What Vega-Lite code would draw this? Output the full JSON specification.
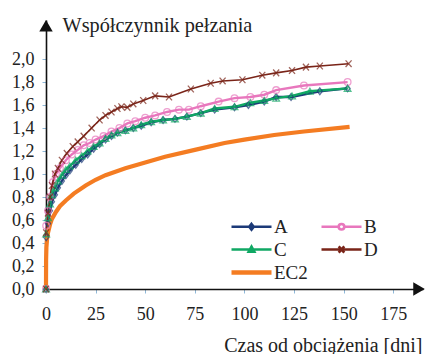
{
  "$schema": "https://vega.github.io/schema/vega-lite/v6.json",
  "width": 377,
  "height": 269,
  "autosize": {"type": "none"},
  "padding": {"left": 46, "top": 20, "right": 3, "bottom": 65},
  "background": "white",
  "config": {
    "view": {"stroke": null},
    "font": "Liberation Serif, Times New Roman, Times, serif",
    "axis": {"labelFont": "Liberation Serif, Times New Roman, Times, serif", "titleFont": "Liberation Serif, Times New Roman, Times, serif", "labelColor": "#222", "titleColor": "#222", "titleFontWeight": "normal", "grid": false, "labelOverlap": false},
    "legend": {"labelFont": "Liberation Serif, Times New Roman, Times, serif"}
  },
  "datasets": {
    "curves": [
      {"s":"A","t":0,"v":0},{"s":"A","t":0.1,"v":0.45},{"s":"A","t":1,"v":0.57},{"s":"A","t":2,"v":0.68},{"s":"A","t":3,"v":0.76},{"s":"A","t":4.5,"v":0.82},{"s":"A","t":6,"v":0.88},{"s":"A","t":8,"v":0.94},{"s":"A","t":10,"v":0.99},{"s":"A","t":12,"v":1.03},{"s":"A","t":15,"v":1.08},{"s":"A","t":18,"v":1.13},{"s":"A","t":21,"v":1.17},{"s":"A","t":24,"v":1.22},{"s":"A","t":27,"v":1.26},{"s":"A","t":30,"v":1.3},{"s":"A","t":33,"v":1.33},{"s":"A","t":36,"v":1.36},{"s":"A","t":40,"v":1.38},{"s":"A","t":44,"v":1.4},{"s":"A","t":48,"v":1.42},{"s":"A","t":53,"v":1.45},{"s":"A","t":59,"v":1.47},{"s":"A","t":65,"v":1.48},{"s":"A","t":71,"v":1.5},{"s":"A","t":78,"v":1.53},{"s":"A","t":85,"v":1.56},{"s":"A","t":95,"v":1.58},{"s":"A","t":102,"v":1.6},{"s":"A","t":110,"v":1.63},{"s":"A","t":116,"v":1.67},{"s":"A","t":123.5,"v":1.67},{"s":"A","t":138,"v":1.72},{"s":"A","t":152,"v":1.745},
      {"s":"B","t":0,"v":0},{"s":"B","t":0.1,"v":0.55},{"s":"B","t":1,"v":0.68},{"s":"B","t":2,"v":0.8},{"s":"B","t":3.5,"v":0.93},{"s":"B","t":5,"v":1.0},{"s":"B","t":7,"v":1.05},{"s":"B","t":10,"v":1.12},{"s":"B","t":13,"v":1.17},{"s":"B","t":16,"v":1.21},{"s":"B","t":19,"v":1.25},{"s":"B","t":22,"v":1.27},{"s":"B","t":25,"v":1.3},{"s":"B","t":29,"v":1.33},{"s":"B","t":33,"v":1.37},{"s":"B","t":37,"v":1.4},{"s":"B","t":41,"v":1.44},{"s":"B","t":45,"v":1.46},{"s":"B","t":50,"v":1.49},{"s":"B","t":55,"v":1.51},{"s":"B","t":61,"v":1.54},{"s":"B","t":67,"v":1.56},{"s":"B","t":72,"v":1.56},{"s":"B","t":78,"v":1.59},{"s":"B","t":87,"v":1.63},{"s":"B","t":95,"v":1.66},{"s":"B","t":103,"v":1.67},{"s":"B","t":110,"v":1.69},{"s":"B","t":116,"v":1.73},{"s":"B","t":130,"v":1.77},{"s":"B","t":152,"v":1.8},
      {"s":"C","t":0,"v":0},{"s":"C","t":0.1,"v":0.48},{"s":"C","t":1,"v":0.62},{"s":"C","t":2,"v":0.74},{"s":"C","t":3,"v":0.82},{"s":"C","t":4.5,"v":0.88},{"s":"C","t":6,"v":0.94},{"s":"C","t":8,"v":0.99},{"s":"C","t":10,"v":1.04},{"s":"C","t":12,"v":1.07},{"s":"C","t":15,"v":1.12},{"s":"C","t":18,"v":1.16},{"s":"C","t":21,"v":1.2},{"s":"C","t":24,"v":1.24},{"s":"C","t":27,"v":1.27},{"s":"C","t":30,"v":1.31},{"s":"C","t":33,"v":1.34},{"s":"C","t":36,"v":1.36},{"s":"C","t":40,"v":1.38},{"s":"C","t":44,"v":1.4},{"s":"C","t":48,"v":1.43},{"s":"C","t":53,"v":1.455},{"s":"C","t":59,"v":1.47},{"s":"C","t":65,"v":1.48},{"s":"C","t":71,"v":1.5},{"s":"C","t":78,"v":1.53},{"s":"C","t":85,"v":1.57},{"s":"C","t":95,"v":1.585},{"s":"C","t":103,"v":1.62},{"s":"C","t":110,"v":1.64},{"s":"C","t":116,"v":1.66},{"s":"C","t":124,"v":1.68},{"s":"C","t":133,"v":1.72},{"s":"C","t":152,"v":1.745},
      {"s":"D","t":0,"v":0},{"s":"D","t":0.1,"v":0.49},{"s":"D","t":1,"v":0.66},{"s":"D","t":2,"v":0.8},{"s":"D","t":3,"v":0.9},{"s":"D","t":4.5,"v":1.0},{"s":"D","t":6,"v":1.05},{"s":"D","t":8,"v":1.12},{"s":"D","t":10.5,"v":1.18},{"s":"D","t":13.5,"v":1.24},{"s":"D","t":16,"v":1.28},{"s":"D","t":19,"v":1.33},{"s":"D","t":23,"v":1.4},{"s":"D","t":27,"v":1.47},{"s":"D","t":30,"v":1.51},{"s":"D","t":33,"v":1.54},{"s":"D","t":36,"v":1.57},{"s":"D","t":38,"v":1.585},{"s":"D","t":41,"v":1.58},{"s":"D","t":44,"v":1.61},{"s":"D","t":49,"v":1.64},{"s":"D","t":55,"v":1.68},{"s":"D","t":62,"v":1.67},{"s":"D","t":73,"v":1.74},{"s":"D","t":83,"v":1.79},{"s":"D","t":89,"v":1.81},{"s":"D","t":99,"v":1.82},{"s":"D","t":109,"v":1.86},{"s":"D","t":116,"v":1.88},{"s":"D","t":124,"v":1.9},{"s":"D","t":131,"v":1.93},{"s":"D","t":138,"v":1.94},{"s":"D","t":152.5,"v":1.96},
      {"s":"EC2","t":0,"v":0},{"s":"EC2","t":0.05,"v":0.25},{"s":"EC2","t":0.2,"v":0.36},{"s":"EC2","t":0.5,"v":0.43},{"s":"EC2","t":1,"v":0.49},{"s":"EC2","t":2,"v":0.56},{"s":"EC2","t":3,"v":0.61},{"s":"EC2","t":5,"v":0.67},{"s":"EC2","t":7,"v":0.72},{"s":"EC2","t":10,"v":0.77},{"s":"EC2","t":14,"v":0.83},{"s":"EC2","t":20,"v":0.9},{"s":"EC2","t":25,"v":0.95},{"s":"EC2","t":30,"v":0.99},{"s":"EC2","t":40,"v":1.05},{"s":"EC2","t":50,"v":1.1},{"s":"EC2","t":60,"v":1.15},{"s":"EC2","t":75,"v":1.21},{"s":"EC2","t":90,"v":1.27},{"s":"EC2","t":100,"v":1.3},{"s":"EC2","t":115,"v":1.34},{"s":"EC2","t":130,"v":1.37},{"s":"EC2","t":153,"v":1.41}
    ],
    "arrowUp": [{"t": 0, "v": 2.29}],
    "arrowRight": [{"t": 188, "v": 0}]
  },
  "layer": [
    {
      "data": {"name": "curves"},
      "mark": {"type": "line", "interpolate": "linear", "clip": false},
      "encoding": {
        "x": {"field": "t", "type": "quantitative",
          "scale": {"domain": [0, 190], "nice": false, "zero": true},
          "axis": {"values": [0,25,50,75,100,125,150,175], "tickCount": 20, "domainColor": "#111", "domainWidth": 1.6, "tickColor": "#8fb8d8", "tickSize": 4, "tickWidth": 1, "labelFontSize": 18, "labelPadding": 12, "labelFlush": false, "labelOverlap": false,
            "title": "Czas od obciążenia [dni]", "titleFontSize": 20, "titleAlign": "right", "titleAnchor": null, "titleX": 376, "titleY": 62, "titleBaseline": "alphabetic"}},
        "y": {"field": "v", "type": "quantitative",
          "scale": {"domain": [0, 2.34], "nice": false},
          "axis": {"values": [0,0.2,0.4,0.6,0.8,1,1.2,1.4,1.6,1.8,2], "tickCount": 20, "labelExpr": "replace(format(datum.value, '.1f'), '.', ',')", "labelOverlap": false, "domainColor": "#111", "domainWidth": 1.6, "tickColor": "#8fb8d8", "tickSize": 4, "tickWidth": 1, "labelFontSize": 18, "labelPadding": 8,
            "title": "Współczynnik pełzania", "titleFontSize": 20.3, "titleAngle": 0, "titleAlign": "left", "titleAnchor": null, "titleX": 16, "titleY": 11, "titleBaseline": "alphabetic"}},
        "color": {"field": "s", "type": "nominal",
          "scale": {"domain": ["A","B","C","D","EC2"], "range": ["#1c3a78","#e877bd","#10a864","#7a2418","#f47c22"]},
          "legend": {"title": null, "orient": "none", "legendX": 196, "legendY": 197, "direction": "horizontal", "columns": 2, "columnPadding": 8, "rowPadding": 3,
            "labelFontSize": 19, "labelColor": "#222", "labelOffset": 13, "symbolSize": 256, "symbolOffset": 0,
            "encode": {"symbols": {"update": {
              "shape": {"signal": "datum.value === 'A' ? 'M-2.5,0H2.5M0,-0.35L0.28,0L0,0.35L-0.28,0Z' : datum.value === 'B' ? 'M-2.5,0H-0.35M0.35,0H2.5M-0.35,0A0.35,0.35 0 1,0 0.35,0A0.35,0.35 0 1,0 -0.35,0' : datum.value === 'C' ? 'M-2.5,0H2.5M0,-0.35L0.35,0.28L-0.35,0.28Z' : datum.value === 'D' ? 'M-2.5,0H2.5M-0.35,-0.4L0.35,0.4M-0.35,0.4L0.35,-0.4' : 'M-2.5,0H2.5'"},
              "size": {"value": 256},
              "fill": {"value": "transparent"},
              "strokeWidth": {"signal": "datum.value === 'EC2' ? 4.5 : 2.6"}
            }}}}},
        "strokeWidth": {"condition": [{"test": "datum.s === 'EC2'", "value": 4.2}, {"test": "datum.s === 'D'", "value": 1.6}], "value": 2.4}
      }
    },
    {
      "data": {"name": "curves"},
      "transform": [{"filter": "datum.s !== 'EC2'"}],
      "mark": {"type": "point", "filled": false, "strokeWidth": 1.3, "size": 45, "clip": false},
      "encoding": {
        "x": {"field": "t", "type": "quantitative"},
        "y": {"field": "v", "type": "quantitative"},
        "color": {"field": "s", "type": "nominal"},
        "shape": {"field": "s", "type": "nominal", "scale": {"domain": ["A","B","C","D"], "range": ["M0,-1L0.75,0L0,1L-0.75,0Z", "circle", "triangle-up", "M-0.9,-1L0.9,1M-0.9,1L0.9,-1"]}, "legend": null}
      }
    },
    {
      "data": {"name": "arrowUp"},
      "mark": {"type": "point", "shape": "triangle-up", "filled": true, "color": "#111", "opacity": 1, "size": 180, "clip": false},
      "encoding": {
        "x": {"field": "t", "type": "quantitative"},
        "y": {"field": "v", "type": "quantitative"}
      }
    },
    {
      "data": {"name": "arrowRight"},
      "mark": {"type": "point", "shape": "triangle-right", "filled": true, "color": "#111", "opacity": 1, "size": 180, "clip": false},
      "encoding": {
        "x": {"field": "t", "type": "quantitative"},
        "y": {"field": "v", "type": "quantitative"}
      }
    }
  ]
}
